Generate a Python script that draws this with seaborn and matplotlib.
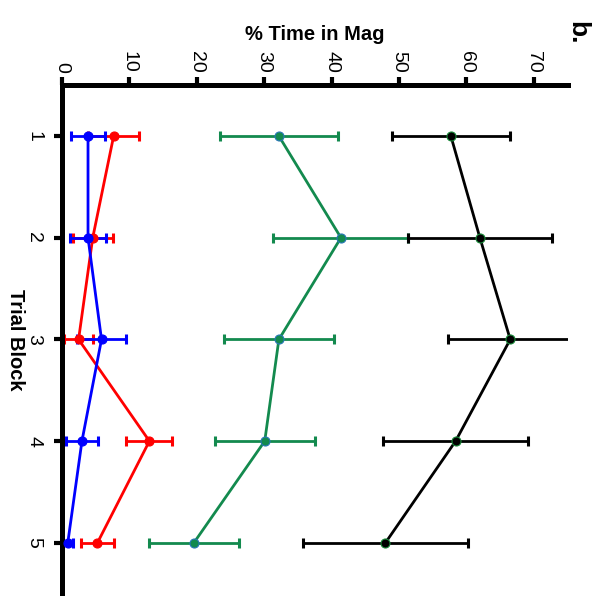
import matplotlib
matplotlib.use("Agg")
import matplotlib.pyplot as plt
import seaborn as sns
import pandas as pd

# Trial blocks and group means / SEM of % time spent in the magazine
blocks = [1, 2, 3, 4, 5]
black_mean = [57.7, 62.0, 66.5, 58.4, 48.0]
black_sem = [8.75, 10.7, 9.3, 10.7, 12.25]
green_mean = [32.2, 41.4, 32.2, 30.1, 19.6]
green_sem = [8.8, 10.0, 8.15, 7.4, 6.65]
red_mean = [7.7, 4.6, 2.5, 13.0, 5.3]
red_sem = [3.8, 2.95, 2.15, 3.4, 2.45]
blue_mean = [3.9, 3.9, 5.9, 3.0, 0.9]
blue_sem = [2.45, 2.65, 3.6, 2.35, 0.7]

x_ticks = [0, 10, 20, 30, 40, 50, 60, 70]

sns.set_style("ticks")
plt.rcParams["font.family"] = ["Liberation Sans", "DejaVu Sans"]
plt.rcParams.update({"text.color": "black", "axes.labelcolor": "black",
                     "xtick.color": "black", "ytick.color": "black"})

fig = plt.figure(figsize=(6.08, 5.96), dpi=100)
ax = fig.add_axes([0.1015, 0.004, 0.832, 0.853])

groups = [
    ("red", "#ff0000", "#ff0000", red_mean, red_sem),
    ("blue", "#0000ff", "#0000ff", blue_mean, blue_sem),
    ("green", "#138a4e", "#2a78b8", green_mean, green_sem),
    ("black", "#000000", "#1a8a3a", black_mean, black_sem),
]

for name, col, edge, mean, sem in groups:
    df = pd.DataFrame({"block": blocks, "pct": mean})
    ax.errorbar(mean, blocks, xerr=sem, fmt="none", ecolor=col,
                elinewidth=2.0, capsize=3.5, capthick=2.2, zorder=2)
    sns.lineplot(data=df, x="pct", y="block", orient="y", sort=False,
                 color=col, linewidth=2.0, marker="o", markersize=6.5,
                 markeredgecolor=edge, markeredgewidth=0.8, ax=ax,
                 zorder=3, legend=False)

ax.set_xlim(0, 75)
ax.set_ylim(5.5, 0.5)
ax.set_xticks(x_ticks)
ax.set_yticks(blocks)

ax.xaxis.tick_top()
ax.xaxis.set_label_position("top")
for side in ("right", "bottom"):
    ax.spines[side].set_visible(False)
for side in ("left", "top"):
    ax.spines[side].set_linewidth(3.6)
    ax.spines[side].set_color("black")

ax.tick_params(axis="both", direction="out", length=6, width=3,
               color="black", labelcolor="black", labelsize=14)
ax.tick_params(axis="x", pad=3)
ax.tick_params(axis="y", pad=8)
for lab in ax.get_xticklabels():
    lab.set_rotation(-90)
    lab.set_va("bottom")
    lab.set_ha("center")
for lab in ax.get_yticklabels():
    lab.set_rotation(-90)
    lab.set_va("center")
    lab.set_ha("right")

ax.set_xlabel("% Time in Mag", fontsize=14.5, fontweight="bold",
              labelpad=8, color="black")
ax.set_ylabel("Trial Block", fontsize=14.5, fontweight="bold",
              rotation=-90, va="center", ha="center", color="black")
ax.yaxis.set_label_coords(-0.092, 0.5)

fig.text(0.949, 0.945, "b.", fontsize=19, fontweight="bold",
         rotation=-90, ha="center", va="center", color="black")

fig.savefig("out.png", dpi=100)
